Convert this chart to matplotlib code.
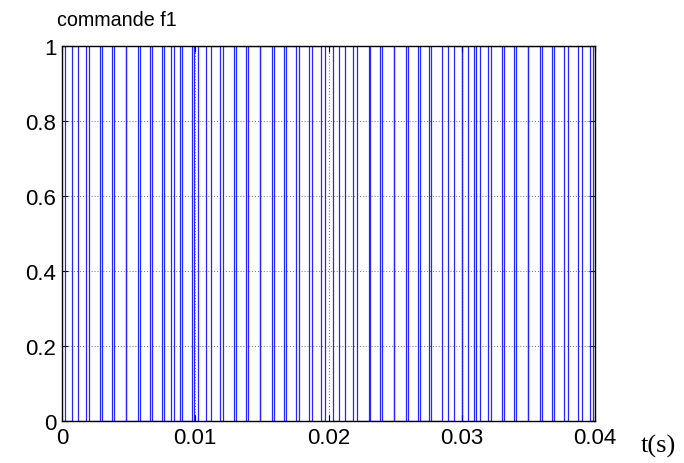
import matplotlib
matplotlib.use("Agg")
import matplotlib.pyplot as plt
import numpy as np

# Switching instants (s); duplicated values = coincident edges
edges = [0.000225, 0.000728, 0.001178, 0.001778, 0.002048, 0.002851, 0.003001,
         0.003728, 0.003878, 0.004779, 0.004779, 0.005679, 0.005829, 0.006579,
         0.006729, 0.007479, 0.007629, 0.008177, 0.008380, 0.008830, 0.008980,
         0.009775, 0.009925, 0.010203, 0.010803, 0.011200, 0.011853, 0.012101,
         0.012903, 0.013053, 0.013803, 0.013953, 0.014854, 0.014854, 0.015754,
         0.015904, 0.016654, 0.016804, 0.017554, 0.017757, 0.018552, 0.018755,
         0.019452, 0.019707, 0.020353, 0.020803, 0.021253, 0.021808, 0.022153,
         0.023008, 0.023106, 0.023856, 0.024006, 0.024906, 0.024906, 0.025806,
         0.025956, 0.026706, 0.026856, 0.027554, 0.027659, 0.028507, 0.028957,
         0.029407, 0.030008, 0.030008, 0.030458, 0.030908, 0.031058, 0.031358,
         0.031958, 0.032206, 0.033008, 0.033158, 0.033908, 0.034059, 0.034959,
         0.034959, 0.035859, 0.036009, 0.036759, 0.036909, 0.037659, 0.037959,
         0.038710, 0.039010, 0.039610, 0.039857]
t_start, t_end = 0.0, 0.04
start_level = 1

xticks = [0, 0.01, 0.02, 0.03, 0.04]
xticklabels = ["0", "0.01", "0.02", "0.03", "0.04"]
yticks = [0, 0.2, 0.4, 0.6, 0.8, 1]
yticklabels = ["0", "0.2", "0.4", "0.6", "0.8", "1"]

# build step waveform from the edges
tt = [t_start]
yy = [start_level]
lvl = start_level
for e in edges:
    tt += [e, e]
    yy += [lvl, 1 - lvl]
    lvl = 1 - lvl
tt.append(t_end)
yy.append(lvl)

fig = plt.figure(figsize=(6.84, 4.64), dpi=100)
ax = fig.add_axes([62/684, 1 - 422/464, (595 - 62)/684, (422 - 47)/464])
ax.plot(tt, yy, color="#0000ff", lw=0.9, alpha=0.85)

ax.set_xlim(0, 0.04)
ax.set_ylim(0, 1)
ax.set_xticks(xticks)
ax.set_xticklabels(xticklabels, fontfamily="Liberation Sans", fontsize=16)
ax.set_yticks(yticks)
ax.set_yticklabels(yticklabels, fontfamily="Liberation Sans", fontsize=16)
ax.tick_params(direction="in", top=True, right=True, length=4, width=0.8, pad=4)
ax.grid(True, color="#707070", linestyle=(0, (1, 2)), lw=0.7)
for s in ax.spines.values():
    s.set_linewidth(1.0)
    s.set_color("black")

fig.text(57/684, 1 - 20/464, "commande f1", fontfamily="Liberation Sans",
         fontsize=14.2, ha="left", va="center")
fig.text(658/684, 1 - 446/464, "t(s)", fontfamily="Liberation Serif",
         fontsize=19, ha="center", va="center")

fig.savefig("out.png", dpi=100)
